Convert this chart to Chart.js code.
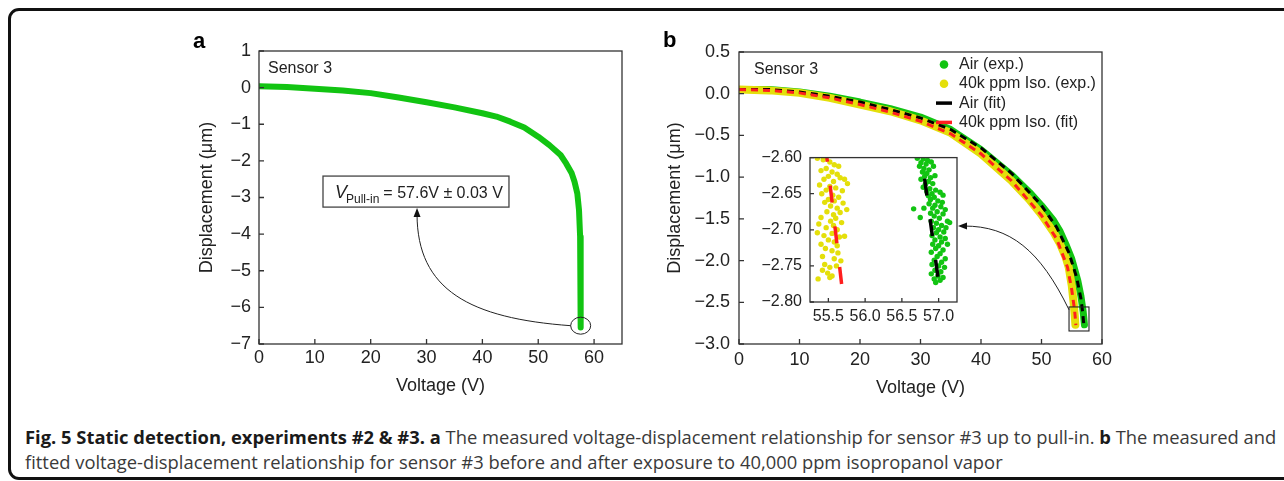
<!DOCTYPE html>
<html>
<head>
<meta charset="utf-8">
<script src="https://cdn.jsdelivr.net/npm/chart.js@4"></script>
<style>
  body { margin: 0; width: 1284px; height: 481px; overflow: hidden; position: relative; background: #fff; }
  .frame { position: absolute; left: 8px; top: 8px; width: 1330px; height: 466px; border: 3px solid #111; border-radius: 11px; }
  canvas { position: absolute; }
  #chartA { left: 180px; top: 30px; }
  #chartB { left: 640px; top: 30px; }
  #chartInset { left: 755px; top: 140px; }
  .caption { position: absolute; left: 25px; top: 424px; font-family: 'Open Sans', sans-serif; font-size: 15px; line-height: 25px; color: #3a3a3a; white-space: nowrap; }
  .caption b { color: #1a1a1a; font-weight: 700; }
</style>
</head>
<body>
<div class="frame"></div>
<canvas id="chartA" width="460" height="370"></canvas>
<canvas id="chartB" width="490" height="370"></canvas>
<canvas id="chartInset" width="215" height="195"></canvas>
<div class="caption"><span id="capLine"><b>Fig. 5 Static detection, experiments #2 &amp; #3. a</b> The measured voltage-displacement relationship for sensor #3 up to pull-in. <b>b</b> The measured and</span><br>fitted voltage-displacement relationship for sensor #3 before and after exposure to 40,000 ppm isopropanol vapor</div>

<script>
// ---- panel a : sensor 3 up to pull-in
const voltA = [0, 5, 10, 15, 20, 25, 30, 35, 40, 42.5, 45, 47.5, 50, 52, 54, 55, 56, 56.5, 57, 57.3, 57.5, 57.6, 57.6, 57.6];
const dispA = [0.04, 0.02, -0.03, -0.08, -0.15, -0.27, -0.40, -0.54, -0.70, -0.79, -0.93, -1.09, -1.34, -1.57, -1.84, -2.07, -2.34, -2.57, -2.89, -3.34, -4.07, -4.8, -5.7, -6.55];
const ticksAX = [0, 10, 20, 30, 40, 50, 60];
const ticksAY = [-7, -6, -5, -4, -3, -2, -1, 0, 1];

// ---- panel b : air vs 40k ppm isopropanol
const voltAir = [0, 5, 10, 15, 20, 25, 30, 35, 40, 45, 48, 50, 52, 53, 54, 55, 56, 56.5, 56.9, 57.1];
const dispAir = [0.05, 0.05, 0.02, -0.03, -0.10, -0.18, -0.28, -0.43, -0.67, -0.97, -1.18, -1.34, -1.52, -1.64, -1.80, -1.98, -2.24, -2.42, -2.62, -2.77];
const voltIso = [0, 5, 10, 15, 20, 25, 30, 35, 40, 45, 48, 50, 52, 53, 54, 54.5, 55, 55.3, 55.5, 55.6];
const dispIso = [0.05, 0.04, 0.01, -0.05, -0.13, -0.21, -0.32, -0.47, -0.72, -1.04, -1.27, -1.45, -1.66, -1.79, -1.96, -2.08, -2.30, -2.50, -2.66, -2.77];
const voltAirFit = [0, 5, 10, 15, 20, 25, 30, 35, 40, 45, 50, 52.5, 54.5, 55.8, 56.5, 56.77, 56.99];
const dispAirFit = [0.05, 0.05, 0.02, -0.03, -0.10, -0.19, -0.29, -0.43, -0.65, -0.95, -1.34, -1.60, -1.90, -2.20, -2.45, -2.60, -2.765];
const voltIsoFit = [0, 5, 10, 15, 20, 25, 30, 35, 40, 45, 50, 52.5, 54.3, 55.0, 55.48, 55.68];
const dispIsoFit = [0.05, 0.04, 0.01, -0.05, -0.13, -0.22, -0.33, -0.48, -0.72, -1.04, -1.46, -1.74, -2.08, -2.35, -2.60, -2.775];
const ticksBX = [0, 10, 20, 30, 40, 50, 60];
const ticksBY = [-3, -2.5, -2, -1.5, -1, -0.5, 0, 0.5];
const labelsB = ['Air (exp.)', '40k ppm Iso. (exp.)', 'Air (fit)', '40k ppm Iso. (fit)'];

// ---- inset : raw points near pull-in [V, um]
const isoZoom = [
  [55.35,-2.601],[55.43,-2.603],[55.52,-2.606],[55.58,-2.610],[55.64,-2.612],[55.47,-2.615],[55.40,-2.618],[55.55,-2.620],[55.62,-2.623],[55.50,-2.626],
  [55.66,-2.628],[55.44,-2.630],[55.57,-2.633],[55.72,-2.630],[55.76,-2.636],[55.38,-2.638],[55.52,-2.640],[55.60,-2.642],[55.47,-2.645],[55.69,-2.646],
  [55.41,-2.650],[55.56,-2.652],[55.64,-2.655],[55.50,-2.658],[55.58,-2.660],[55.45,-2.662],[55.70,-2.663],[55.53,-2.667],[55.62,-2.670],[55.75,-2.672],
  [55.48,-2.675],[55.66,-2.676],[55.57,-2.679],[55.40,-2.683],[55.60,-2.684],[55.53,-2.688],[55.68,-2.690],[55.37,-2.692],[55.57,-2.694],[55.47,-2.697],
  [55.62,-2.700],[55.35,-2.704],[55.55,-2.705],[55.44,-2.708],[55.65,-2.710],[55.72,-2.709],[55.50,-2.714],[55.58,-2.717],[55.40,-2.720],[55.62,-2.722],
  [55.46,-2.726],[55.55,-2.729],[55.63,-2.732],[55.42,-2.737],[55.58,-2.740],[55.67,-2.743],[55.45,-2.748],[55.52,-2.752],[55.61,-2.750],[55.42,-2.756],
  [55.49,-2.760],[55.55,-2.764],[55.36,-2.768],[55.52,-2.766]
];
const airZoom = [
  [56.71,-2.601],[56.79,-2.602],[56.85,-2.604],[56.76,-2.607],[56.83,-2.609],[56.90,-2.606],[56.74,-2.612],[56.80,-2.615],[56.87,-2.617],[56.93,-2.612],
  [56.78,-2.620],[56.84,-2.622],[56.81,-2.626],[56.89,-2.628],[56.95,-2.625],[56.76,-2.630],[56.86,-2.633],[56.82,-2.637],[56.92,-2.636],[56.79,-2.641],
  [56.88,-2.643],[56.96,-2.645],[56.84,-2.647],[56.91,-2.650],[57.02,-2.648],[56.86,-2.653],[56.94,-2.655],[57.06,-2.652],[56.89,-2.658],[56.99,-2.660],
  [57.05,-2.662],[56.87,-2.664],[56.95,-2.666],[56.66,-2.671],[56.80,-2.670],[56.92,-2.670],[57.03,-2.668],[57.09,-2.672],[56.98,-2.675],[56.89,-2.677],
  [57.06,-2.678],[56.75,-2.683],[56.94,-2.681],[57.01,-2.684],[57.12,-2.688],[57.15,-2.690],[56.90,-2.688],[56.97,-2.691],[57.04,-2.694],[57.10,-2.697],
  [56.93,-2.697],[57.00,-2.700],[56.97,-2.704],[57.07,-2.703],[56.91,-2.708],[57.02,-2.710],[57.09,-2.712],[56.95,-2.714],[57.04,-2.717],[56.92,-2.720],
  [57.00,-2.722],[57.12,-2.720],[56.96,-2.726],[57.06,-2.728],[56.90,-2.731],[57.02,-2.733],[56.98,-2.737],[57.09,-2.740],[56.94,-2.742],[57.04,-2.745],
  [56.91,-2.748],[57.00,-2.750],[57.08,-2.752],[56.95,-2.756],[57.03,-2.758],[56.90,-2.761],[56.99,-2.764],[57.06,-2.766],[56.94,-2.768],[57.02,-2.770],[56.96,-2.773]
];
const ticksInX = [55.5, 56.0, 56.5, 57.0];
const ticksInY = [-2.80, -2.75, -2.70, -2.65, -2.60];

const GREEN = '#12c412';
const YELLOW = '#e4df0a';
const RED = '#ff1e1e';
const INK = '#222';
const FONT = "'Liberation Sans', Arial, sans-serif";

const pts = (xs, ys) => xs.map((v, i) => ({ x: v, y: ys[i] }));
const minus = s => String(s).replace('-', '\u2212');
const fixTicks = list => (s => { s.ticks = list.map(v => ({ value: v })); });

// frame round the plot area + short ticks pointing inward
const boxPlugin = {
  id: 'box',
  beforeDraw(chart, args, opts) {
    if (!opts.fill) return;
    const { ctx, chartArea: a } = chart;
    ctx.save();
    ctx.fillStyle = '#fff';
    ctx.fillRect(a.left, a.top, a.right - a.left, a.bottom - a.top);
    ctx.restore();
  },
  afterDatasetsDraw(chart, args, opts) {
    const { ctx, chartArea: a, scales } = chart;
    ctx.save();
    ctx.strokeStyle = '#333';
    ctx.lineWidth = 1.3;
    ctx.strokeRect(a.left, a.top, a.right - a.left, a.bottom - a.top);
    ctx.beginPath();
    scales.x.ticks.forEach(t => {
      const px = scales.x.getPixelForValue(t.value);
      ctx.moveTo(px, a.bottom); ctx.lineTo(px, a.bottom - opts.tick);
    });
    scales.y.ticks.forEach(t => {
      const py = scales.y.getPixelForValue(t.value);
      ctx.moveTo(a.left, py); ctx.lineTo(a.left + opts.tick, py);
    });
    ctx.stroke();
    ctx.restore();
  }
};

function arrowHead(ctx, x, y, ang) {
  ctx.beginPath();
  ctx.moveTo(x, y);
  ctx.lineTo(x - 9 * Math.cos(ang) + 3.5 * Math.sin(ang), y - 9 * Math.sin(ang) - 3.5 * Math.cos(ang));
  ctx.lineTo(x - 9 * Math.cos(ang) - 3.5 * Math.sin(ang), y - 9 * Math.sin(ang) + 3.5 * Math.cos(ang));
  ctx.closePath();
  ctx.fill();
}

// letters, sensor tag and the pull-in note of panel a
const notesA = {
  id: 'notesA',
  afterDraw(chart) {
    const { ctx, chartArea: a, scales: { x, y } } = chart;
    ctx.save();
    ctx.fillStyle = '#000';
    ctx.font = 'bold 22px ' + FONT;
    ctx.textBaseline = 'alphabetic';
    ctx.fillText('a', 13, 18);
    ctx.fillStyle = INK;
    ctx.font = '16px ' + FONT;
    ctx.textBaseline = 'middle';
    ctx.fillText('Sensor 3', a.left + 9, a.top + 18);

    // note box
    const bx0 = x.getPixelForValue(11.46), bx1 = x.getPixelForValue(44.76);
    const by0 = y.getPixelForValue(-2.415), by1 = y.getPixelForValue(-3.262);
    ctx.strokeStyle = '#444';
    ctx.lineWidth = 1.3;
    ctx.strokeRect(bx0, by0, bx1 - bx0, by1 - by0);
    let tx = bx0 + 12;
    const base = by0 + 22;
    ctx.textBaseline = 'alphabetic';
    ctx.font = 'italic 18px ' + FONT;
    ctx.fillText('V', tx, base);
    tx += ctx.measureText('V').width - 1;
    ctx.font = '12px ' + FONT;
    ctx.fillText('Pull-in', tx, base + 5);
    tx += ctx.measureText('Pull-in').width + 4;
    ctx.font = '16px ' + FONT;
    ctx.fillText('= 57.6V \u00b1 0.03 V', tx, base);

    // circle at pull-in and curved arrow to the note
    const cx = x.getPixelForValue(57.6), cy = y.getPixelForValue(-6.5);
    ctx.strokeStyle = '#222';
    ctx.lineWidth = 1;
    ctx.beginPath();
    ctx.ellipse(cx, cy, 10, 8.5, 0, 0, Math.PI * 2);
    ctx.stroke();
    const tipX = x.getPixelForValue(28.3), tipY = by1 + 1;
    ctx.beginPath();
    ctx.moveTo(cx - 10, cy);
    ctx.bezierCurveTo(x.getPixelForValue(37.8), y.getPixelForValue(-6.30), tipX, y.getPixelForValue(-5.53), tipX, tipY + 6);
    ctx.stroke();
    ctx.fillStyle = '#111';
    arrowHead(ctx, tipX, tipY, -Math.PI / 2);
    ctx.restore();
  }
};

// letter, sensor tag, legend, zoom box and arrow of panel b
const notesB = {
  id: 'notesB',
  afterDraw(chart) {
    const { ctx, chartArea: a, scales: { x, y } } = chart;
    ctx.save();
    ctx.fillStyle = '#000';
    ctx.font = 'bold 22px ' + FONT;
    ctx.fillText('b', 23, 17);
    ctx.fillStyle = INK;
    ctx.font = '16px ' + FONT;
    ctx.textBaseline = 'middle';
    ctx.fillText('Sensor 3', a.left + 15, a.top + 18);

    // legend in dataset order
    chart.data.datasets.forEach((ds, i) => {
      const ly = a.top + 12.5 + i * 19.3;
      const mx = a.left + 205;
      if (ds.showLine && ds.borderDash) {
        ctx.strokeStyle = ds.borderColor;
        ctx.lineWidth = 3.5;
        ctx.beginPath();
        ctx.moveTo(mx - 8, ly); ctx.lineTo(mx + 8, ly);
        ctx.stroke();
      } else {
        ctx.fillStyle = ds.borderColor;
        ctx.beginPath();
        ctx.arc(mx, ly, 4.3, 0, Math.PI * 2);
        ctx.fill();
      }
      ctx.fillStyle = INK;
      ctx.fillText(ds.label, a.left + 220, ly);
    });

    // zoom box
    const zx0 = x.getPixelForValue(54.55), zx1 = x.getPixelForValue(57.85);
    const zy0 = y.getPixelForValue(-2.556), zy1 = y.getPixelForValue(-2.844);
    ctx.strokeStyle = '#222';
    ctx.lineWidth = 1.1;
    ctx.strokeRect(zx0, zy0, zx1 - zx0, zy1 - zy0);

    // arrow from the box to the inset
    const ex = x.getPixelForValue(36.2), ey = y.getPixelForValue(-1.586);
    ctx.lineWidth = 1;
    ctx.beginPath();
    ctx.moveTo(zx0, y.getPixelForValue(-2.59));
    ctx.bezierCurveTo(x.getPixelForValue(49.75), y.getPixelForValue(-1.873), x.getPixelForValue(44.8), ey, ex + 6, ey);
    ctx.stroke();
    ctx.fillStyle = '#111';
    arrowHead(ctx, ex, ey, Math.PI);
    ctx.restore();
  }
};

function axisX(min, max, list, size, pad, dec, title, titlePad, fit) {
  return {
    type: 'linear', min: min, max: max,
    afterBuildTicks: fixTicks(list),
    afterFit: s => { s.height = fit; },
    grid: { display: false, drawTicks: false }, border: { display: false },
    ticks: { color: INK, padding: pad, font: { family: FONT, size: size }, callback: v => minus(Number(v).toFixed(dec)) },
    title: title ? { display: true, text: title, color: INK, padding: { top: 0, bottom: titlePad }, font: { family: FONT, size: 18 } } : { display: false }
  };
}
function axisY(min, max, list, size, pad, dec, title, titlePad, fit) {
  return {
    type: 'linear', min: min, max: max,
    afterBuildTicks: fixTicks(list),
    afterFit: s => { s.width = fit; },
    grid: { display: false, drawTicks: false }, border: { display: false },
    ticks: { color: INK, padding: pad, font: { family: FONT, size: size }, callback: v => minus(Number(v).toFixed(dec)) },
    title: title ? { display: true, text: title, color: INK, padding: { top: titlePad, bottom: 0 }, font: { family: FONT, size: 18 } } : { display: false }
  };
}

// Chart a
new Chart(document.getElementById('chartA'), {
  type: 'scatter',
  data: {
    datasets: [{
      label: 'Sensor 3',
      data: pts(voltA, dispA),
      showLine: true,
      borderColor: GREEN,
      borderWidth: 6,
      borderCapStyle: 'round',
      borderJoinStyle: 'round',
      pointRadius: 0
    }]
  },
  options: {
    responsive: false, animation: false, events: [],
    layout: { padding: { top: 21, right: 18, left: 0, bottom: 0 } },
    plugins: { legend: { display: false }, tooltip: { enabled: false }, box: { tick: 5 } },
    scales: {
      x: axisX(0, 65, ticksAX, 18, 3, 0, 'Voltage (V)', 3, 56),
      y: axisY(-7, 1, ticksAY, 18, 8, 0, 'Displacement (\u03bcm)', 16, 79)
    }
  },
  plugins: [boxPlugin, notesA]
});

// Chart b
new Chart(document.getElementById('chartB'), {
  type: 'scatter',
  data: {
    datasets: [
      { label: labelsB[0], data: pts(voltAir, dispAir), showLine: true, borderColor: GREEN, borderWidth: 7,
        borderCapStyle: 'round', borderJoinStyle: 'round', pointRadius: 0, order: 4 },
      { label: labelsB[1], data: pts(voltIso, dispIso), showLine: true, borderColor: YELLOW, borderWidth: 8,
        borderCapStyle: 'round', borderJoinStyle: 'round', pointRadius: 0, order: 3 },
      { label: labelsB[2], data: pts(voltAirFit, dispAirFit), showLine: true, borderColor: '#000', borderWidth: 3,
        borderDash: [7, 5], pointRadius: 0, order: 2 },
      { label: labelsB[3], data: pts(voltIsoFit, dispIsoFit), showLine: true, borderColor: RED, borderWidth: 3,
        borderDash: [7, 5], pointRadius: 0, order: 1 }
    ]
  },
  options: {
    responsive: false, animation: false, events: [],
    layout: { padding: { top: 22, right: 28, left: 0, bottom: 0 } },
    plugins: { legend: { display: false }, tooltip: { enabled: false }, box: { tick: 5 } },
    scales: {
      x: axisX(0, 60, ticksBX, 18, 5, 0, 'Voltage (V)', 1, 56),
      y: axisY(-3, 0.5, ticksBY, 18, 9, 1, 'Displacement (\u03bcm)', 24, 99)
    }
  },
  plugins: [boxPlugin, notesB]
});

// inset : fit segments run bottom-up so the dashes start at the lower end
const nearEnd = (xs, ys) => pts(xs, ys).filter(p => p.y <= -2.6).reverse();

new Chart(document.getElementById('chartInset'), {
  type: 'scatter',
  data: {
    datasets: [
      { data: nearEnd(voltIsoFit, dispIsoFit), showLine: true, borderColor: RED, borderWidth: 3.5,
        borderDash: [17, 24], pointRadius: 0, order: 1 },
      { data: nearEnd(voltAirFit, dispAirFit), showLine: true, borderColor: '#000', borderWidth: 3.5,
        borderDash: [17, 24], pointRadius: 0, order: 1 },
      { data: isoZoom.map(p => ({ x: p[0], y: p[1] })), pointRadius: 2.7, pointBackgroundColor: YELLOW, pointBorderWidth: 0, order: 2 },
      { data: airZoom.map(p => ({ x: p[0], y: p[1] })), pointRadius: 2.7, pointBackgroundColor: GREEN, pointBorderWidth: 0, order: 2 }
    ]
  },
  options: {
    responsive: false, animation: false, events: [],
    layout: { padding: { top: 13, right: 13, left: 0, bottom: 0 } },
    plugins: { legend: { display: false }, tooltip: { enabled: false }, box: { tick: 4, fill: true } },
    scales: {
      x: axisX(55.25, 57.25, ticksInX, 16, 5, 1, null, 0, 33),
      y: axisY(-2.80, -2.60, ticksInY, 16, 8, 2, null, 0, 55)
    }
  },
  plugins: [boxPlugin]
});

// caption : first line spans the same width as in the figure
const cap = document.querySelector('.caption');
const w = document.getElementById('capLine').getBoundingClientRect().width;
cap.style.fontSize = (15 * 1252 / w).toFixed(2) + 'px';
</script>
</body>
</html>
